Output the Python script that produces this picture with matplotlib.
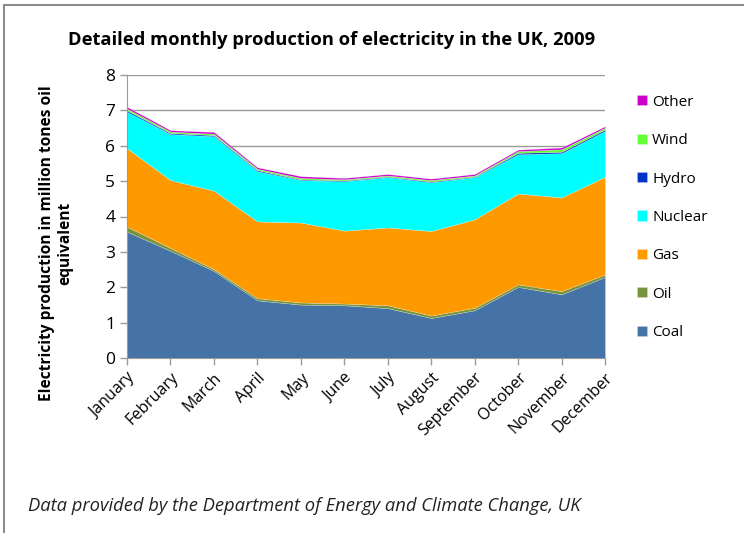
import matplotlib.pyplot as plt
from matplotlib.patches import Rectangle

months = ["January", "February", "March", "April", "May", "June", "July",
          "August", "September", "October", "November", "December"]

# monthly production, million tonnes oil equivalent
coal = [3.57, 3.03, 2.46, 1.63, 1.51, 1.49, 1.41, 1.13, 1.35, 2.01, 1.80, 2.29]
oil = [0.14, 0.08, 0.05, 0.06, 0.06, 0.05, 0.08, 0.07, 0.07, 0.07, 0.09, 0.07]
gas = [2.22, 1.92, 2.22, 2.17, 2.26, 2.06, 2.20, 2.39, 2.50, 2.57, 2.65, 2.76]
nuclear = [1.03, 1.30, 1.54, 1.42, 1.20, 1.40, 1.42, 1.38, 1.19, 1.11, 1.25, 1.30]
hydro = [0.04, 0.03, 0.03, 0.03, 0.02, 0.02, 0.02, 0.02, 0.02, 0.04, 0.04, 0.04]
wind = [0.05, 0.04, 0.04, 0.04, 0.04, 0.03, 0.03, 0.04, 0.03, 0.05, 0.07, 0.05]
other = [0.05, 0.04, 0.05, 0.04, 0.05, 0.04, 0.04, 0.04, 0.04, 0.04, 0.05, 0.04]

series = [coal, oil, gas, nuclear, hydro, wind, other]
labels = ["Coal", "Oil", "Gas", "Nuclear", "Hydro", "Wind", "Other"]
colors = ["#4572A7", "#77933C", "#FF9900", "#00FFFF", "#0033CC", "#66FF33", "#CC00CC"]

FONT = "Open Sans"


def main():
    fig = plt.figure(figsize=(7.44, 5.33), dpi=100)
    ax = fig.add_axes([127 / 744, 1 - 358 / 533, 478 / 744, 283 / 533])

    x = list(range(len(months)))
    polys = ax.stackplot(x, *series, colors=colors, labels=labels, linewidth=0)
    # thin light seams between the layers
    for p in polys:
        p.set_edgecolor((1, 1, 1, 0.35))
        p.set_linewidth(0.4)

    ax.set_xlim(0, 11)
    ax.set_ylim(0, 8)
    ax.set_yticks(range(9))
    ax.grid(axis="y", color="#9a9a9a", linewidth=1.0)
    ax.set_axisbelow(True)
    for side in ["top", "right"]:
        ax.spines[side].set_visible(False)
    ax.spines["left"].set_color("#9a9a9a")
    ax.spines["bottom"].set_color("#9a9a9a")
    ax.tick_params(colors="#9a9a9a", length=5, width=1, labelcolor="black")

    ax.set_xticks(x)
    ax.set_xticklabels(months, rotation=45, ha="right", rotation_mode="anchor",
                       family=FONT, fontsize=11.5)
    for lab in ax.get_yticklabels():
        lab.set_family(FONT)
        lab.set_fontsize(12.5)

    ax.set_ylabel("Electricity production in million tones oil\nequivalent",
                  family=FONT, fontsize=11.2, fontweight="bold")
    ax.yaxis.set_label_coords(-0.113, 0.405)

    fig.text(0.445, 1 - 40 / 533, "Detailed monthly production of electricity in the UK, 2009",
             ha="center", va="center", family=FONT, fontsize=13.2, fontweight="bold")
    fig.text(28 / 744, 1 - 506 / 533,
             "Data provided by the Department of Energy and Climate Change, UK",
             ha="left", va="center", family=FONT, fontsize=13.2, style="italic",
             color="#222222")

    fig.legend(polys[::-1], labels[::-1], loc="upper left",
               bbox_to_anchor=(623 / 744, 1 - 81 / 533), frameon=False,
               prop={"family": FONT, "size": 11}, handlelength=0.65,
               handleheight=0.65, handletextpad=0.35, labelspacing=1.53)

    fig.patches.append(Rectangle((4 / 744, -0.05), 1.0, 1 - 5 / 533 + 0.05,
                                 transform=fig.transFigure, fill=False,
                                 edgecolor="#8c8c8c", linewidth=1.5))

    fig.savefig("out.png", dpi=100)


if __name__ == "__main__":
    main()
